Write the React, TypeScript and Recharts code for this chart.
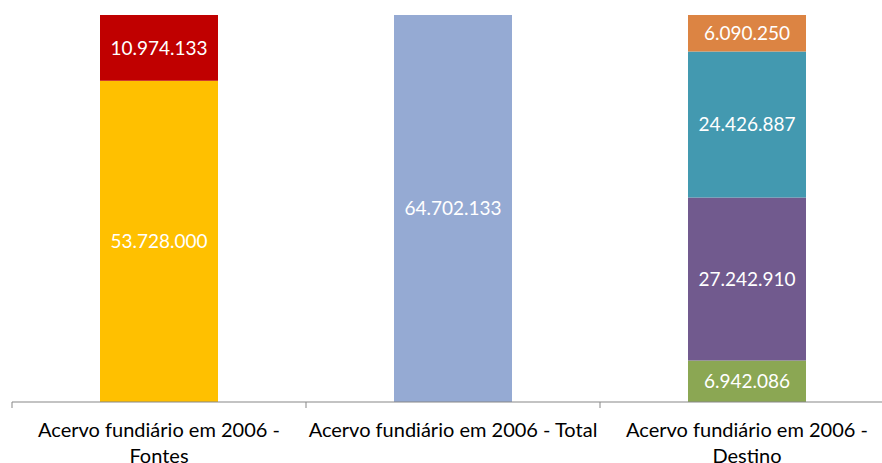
import { BarChart, Bar, XAxis, YAxis, LabelList } from "recharts";

const categories = [
  "Acervo fundiário em 2006 - Fontes",
  "Acervo fundiário em 2006 - Total",
  "Acervo fundiário em 2006 - Destino",
];
const tickLines = [
  ["Acervo fundiário em 2006 -", "Fontes"],
  ["Acervo fundiário em 2006 - Total"],
  ["Acervo fundiário em 2006 -", "Destino"],
];

// Fontes (bottom to top)
const fontesBase = [53728000, 0, 0];
const fontesTop = [10974133, 0, 0];
// Total
const total = [0, 64702133, 0];
// Destino (bottom to top)
const destinoA = [0, 0, 6942086];
const destinoB = [0, 0, 27242910];
const destinoC = [0, 0, 24426887];
const destinoD = [0, 0, 6090250];

const series = [
  { key: "fontesBase", values: fontesBase, color: "#FFC000" },
  { key: "fontesTop", values: fontesTop, color: "#C00000" },
  { key: "total", values: total, color: "#95AAD3" },
  { key: "destinoA", values: destinoA, color: "#8BA753" },
  { key: "destinoB", values: destinoB, color: "#715A8E" },
  { key: "destinoC", values: destinoC, color: "#4399B0" },
  { key: "destinoD", values: destinoD, color: "#DC8443" },
];

const data = categories.map((name, i) => {
  const row: Record<string, string | number | null> = { name, pos: i + 0.5 };
  series.forEach((s) => {
    row[s.key] = s.values[i] || null;
  });
  return row;
});

const fmt = (v: unknown) =>
  v ? String(v).replace(/\B(?=(\d{3})+(?!\d))/g, ".") : "";

const FONT = "Lato, 'Open Sans', sans-serif";

// integer positions are category boundaries (tick marks), halves are category centres (labels)
function AxisTick(props: any) {
  const { x, y, payload } = props;
  const v = payload.value as number;
  if (Number.isInteger(v)) {
    return <line x1={x} x2={x} y1={y} y2={y + 6} stroke="#878787" />;
  }
  const lines = tickLines[Math.floor(v)] || [];
  return (
    <text x={x} y={y} textAnchor="middle" fill="#000" fontSize={20} fontFamily={FONT}>
      {lines.map((l, i) => (
        <tspan key={i} x={x} dy={i === 0 ? 35 : 26}>
          {l}
        </tspan>
      ))}
    </text>
  );
}

export default function App() {
  return (
    <div style={{ position: "absolute", left: 0, top: 0, width: 882, height: 463, overflow: "hidden", background: "#fff" }}>
      <BarChart
        width={894}
        height={463}
        data={data}
        margin={{ top: 15, right: 0, bottom: 0, left: 12 }}
        barSize={118}
      >
        <XAxis dataKey="name" hide height={0} />
        <XAxis
          xAxisId="bounds"
          type="number"
          dataKey="pos"
          domain={[0, 3]}
          ticks={[0, 0.5, 1, 1.5, 2, 2.5, 3]}
          interval={0}
          height={61}
          stroke="#878787"
          tickLine={false}
          tickSize={0}
          tickMargin={0}
          tick={<AxisTick />}
        />
        <YAxis hide domain={[0, 64702133]} />
        {series.map((s) => (
          <Bar
            key={s.key}
            dataKey={s.key}
            stackId="a"
            fill={s.color}
            isAnimationActive={false}
          >
            <LabelList
              dataKey={s.key}
              position="center"
              formatter={fmt}
              fill="#fff"
              fontSize={19}
              fontFamily={FONT}
            />
          </Bar>
        ))}
      </BarChart>
    </div>
  );
}
